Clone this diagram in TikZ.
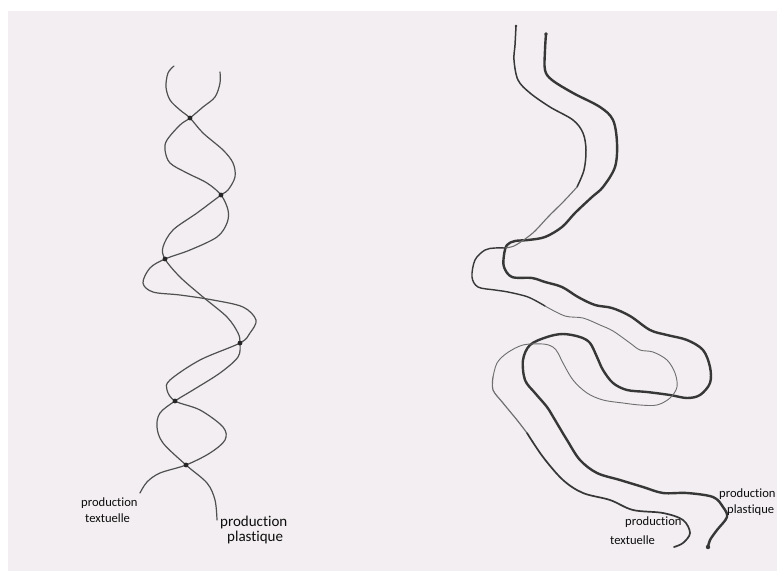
\documentclass[tikz,border=0pt]{standalone}
\usepackage{fontspec}
\setmainfont[Ligatures=NoCommon]{Carlito}
\definecolor{paper}{RGB}{242,238,241}
\definecolor{helix}{RGB}{80,80,80}
\definecolor{ink}{RGB}{55,55,55}
\definecolor{inklight}{RGB}{110,110,110}
\tikzset{
  helixline/.style={draw=helix, line width=1.2pt, line cap=round, line join=round},
  thickline/.style={draw=ink, line width=2.4pt, line cap=round, line join=round},
  thinline/.style={draw=ink, line width=1.5pt, line cap=round, line join=round},
  faintline/.style={draw=inklight, line width=0.9pt, line cap=round, line join=round},
  handtext/.style={text=black!95, inner sep=0pt, anchor=west},
  smallhand/.style={handtext, font=\fontsize{12.6}{13}\selectfont},
  bighand/.style={handtext, font=\fontsize{15}{16}\selectfont},
  smoothplot/.style={smooth, tension=0.55}
}
\begin{document}
\begin{tikzpicture}[x=1pt, y=-1pt]
\useasboundingbox (0,0) rectangle (777,571);
\clip (0,0) rectangle (777,571);
\fill[white] (0,0) rectangle (777,571);
\fill[paper] (8,11) rectangle (777,571);

% ---------- left helix ----------
\coordinate (d1) at (190,118);
\coordinate (d2) at (221,195);
\coordinate (d3) at (165,259);
\coordinate (d4) at (240,343);
\coordinate (d5) at (175,401);
\coordinate (d6) at (186,465);

\draw[helixline] plot[smoothplot] coordinates {(174,66) (168,73) (166,87) (170,100) (180,110) (d1) (203,133) (223,150) (233,163) (235,177) (228,190) (d2) (197,213) (173,230) (163,247) (d3) (180,277) (203,297) (227,317) (238,333) (d4) (238,357) (220,373) (193,390) (d5) (160,413) (157,427) (163,443) (d6) (207,483) (215,500) (217,520)};
\draw[helixline] plot[smoothplot] coordinates {(220,72) (220,83) (215,97) (203,107) (d1) (180,125) (167,140) (165,150) (170,163) (187,173) (207,183) (d2) (228,210) (227,223) (217,237) (190,250) (d3) (150,268) (143,283) (153,292) (180,295) (213,300) (243,307) (256,320) (250,333) (d4) (200,360) (170,380) (167,390) (d5) (200,410) (223,427) (225,440) (210,453) (d6) (160,473) (147,482) (140,493)};

\foreach \d in {d1,d2,d3,d4,d5,d6} \fill[black!85] (\d) circle[radius=2.4pt];

\node[smallhand] (lprod) at (81,503) {production};
\node[smallhand] (ltext) at (85,518) {textuelle};
\node[bighand] (mprod) at (220,522) {production};
\node[bighand] (mplas) at (227,537) {plastique};

% ---------- right pair of lines ----------
% thick line (plastique)
\draw[thickline] plot[smoothplot] coordinates {(546,34) (545,50) (545,70) (552,80) (573,93) (600,107) (613,120) (617,143) (615,167) (603,187) (592,197) (575,213) (562,227) (545,237) (528,240) (515,241) (507,245) (504,255) (504,267) (512,277) (532,278) (545,282) (562,287) (578,297) (595,305) (612,308) (630,316) (650,330) (667,335) (687,340) (703,350) (710,367) (710,383) (700,395) (687,398) (670,395) (647,392) (627,390) (613,383) (603,370) (597,357) (590,343) (580,337) (563,334) (547,337) (530,345) (523,360) (525,380) (535,393) (547,407) (555,420) (567,440) (580,460) (597,473) (620,480) (643,487) (663,493) (687,493) (713,497) (723,507) (727,517) (717,530) (710,540) (708,547)};
\coordinate (rstart) at (546,34);
\coordinate (rend) at (708,547);
\fill[ink] (rstart) circle[radius=1.8pt];
\fill[ink] (rend) circle[radius=2.2pt];

% thin line (textuelle), in segments of varying weight
\draw[thinline] plot[smoothplot] coordinates {(516,26) (515,45) (514,60) (518,80) (530,93) (550,107) (573,120) (583,133) (586,150) (584,170) (577,187)};
\draw[faintline, line width=1.1pt] plot[smoothplot] coordinates {(577,187) (565,200) (548,217) (535,231) (525,239) (514,246) (505,248)};
\draw[thinline, line width=1.4pt] plot[smoothplot] coordinates {(505,248) (495,248) (485,250) (475,260) (472,277) (478,287) (495,290) (508,292) (528,297) (545,306)};
\draw[faintline] plot[smoothplot] coordinates {(545,306) (565,316) (583,318) (600,325) (613,331) (630,343) (640,350) (653,352) (667,360) (675,373) (677,387) (670,398) (657,405) (640,405) (623,403) (603,400) (587,393) (573,380) (563,363) (558,353) (553,347) (543,344) (523,345) (507,353) (497,363) (493,377)};
\draw[faintline, line width=1.2pt] plot[smoothplot] coordinates {(493,377) (493,390) (503,403) (517,420) (527,433)};
\draw[thinline, line width=1.7pt] plot[smoothplot] coordinates {(527,433) (543,457) (563,480) (583,493) (610,500) (633,510) (663,513) (683,520) (690,533) (683,543) (674,547)};
\coordinate (lstart) at (516,26);
\fill[ink] (lstart) circle[radius=1.4pt];

\node[smallhand] (rprod) at (625,522) {production};
\node[smallhand] (rtext) at (610,540) {textuelle};
\node[smallhand] (pprod) at (719,494) {production};
\node[smallhand] (pplas) at (727,510) {plastique};
\end{tikzpicture}
\end{document}
